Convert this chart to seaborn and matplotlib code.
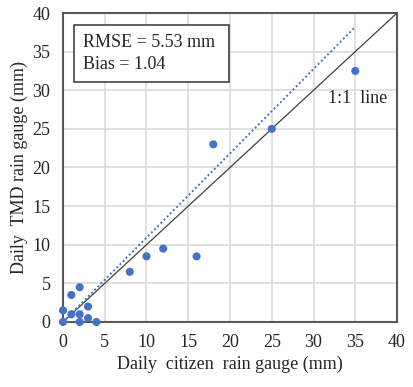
import numpy as np
import pandas as pd
import matplotlib
matplotlib.use('Agg')
import matplotlib.pyplot as plt
import seaborn as sns

# daily rainfall pairs (mm)
citizen = [0, 0, 1, 1, 2, 2, 2, 3, 3, 4, 8, 10, 12, 16, 18, 25, 35]
tmd = [1.5, 0, 3.5, 1, 4.5, 1, 0, 2, 0.5, 0, 6.5, 8.5, 9.5, 8.5, 23, 25, 32.5]
trend_x = [0, 35]
trend_y = [0, 38.2]
ticks = [0, 5, 10, 15, 20, 25, 30, 35, 40]

sns.set_style('white')
plt.rcParams['font.family'] = ['Liberation Serif', 'DejaVu Serif']

df = pd.DataFrame({'citizen': citizen, 'tmd': tmd})

fig = plt.figure(figsize=(4.13, 3.87), dpi=100)
ax = fig.add_axes([0.1525, 0.168, 0.8088, 0.7984])

ax.grid(True, color='#d9d9d9', linewidth=1.1)
ax.set_axisbelow(True)

ax.plot([0, 40], [0, 40], color='#404040', linewidth=0.9, zorder=2)
ax.plot(trend_x, trend_y, color='#4472c4', linestyle=(0, (1, 1.3)), linewidth=1.4, zorder=2)
sns.scatterplot(data=df, x='citizen', y='tmd', ax=ax, color='#4472c4', s=34,
                edgecolor='none', zorder=3, clip_on=False)

ax.set_xlim(0, 40)
ax.set_ylim(0, 40)
ax.set_xticks(ticks)
ax.set_yticks(ticks)
ax.tick_params(axis='both', labelsize=13, length=4, width=1.2, color='#595959',
               direction='out', pad=5)
for s in ax.spines.values():
    s.set_color('#595959')
    s.set_linewidth(1.5)

ax.set_xlabel('Daily  citizen  rain gauge (mm)', fontsize=13, labelpad=3)
ax.set_ylabel('Daily  TMD rain gauge (mm)', fontsize=13, labelpad=3)

ax.text(2.4, 37.3, 'RMSE = 5.53 mm \nBias = 1.04', fontsize=13, va='top', ha='left',
        linespacing=1.4,
        bbox=dict(boxstyle='square,pad=0.5', facecolor='white', edgecolor='#333333',
                  linewidth=1.1))
ax.text(31.7, 28.9, '1:1  line', fontsize=13, ha='left', va='center')

fig.savefig('out.png', dpi=100)
plt.close(fig)
